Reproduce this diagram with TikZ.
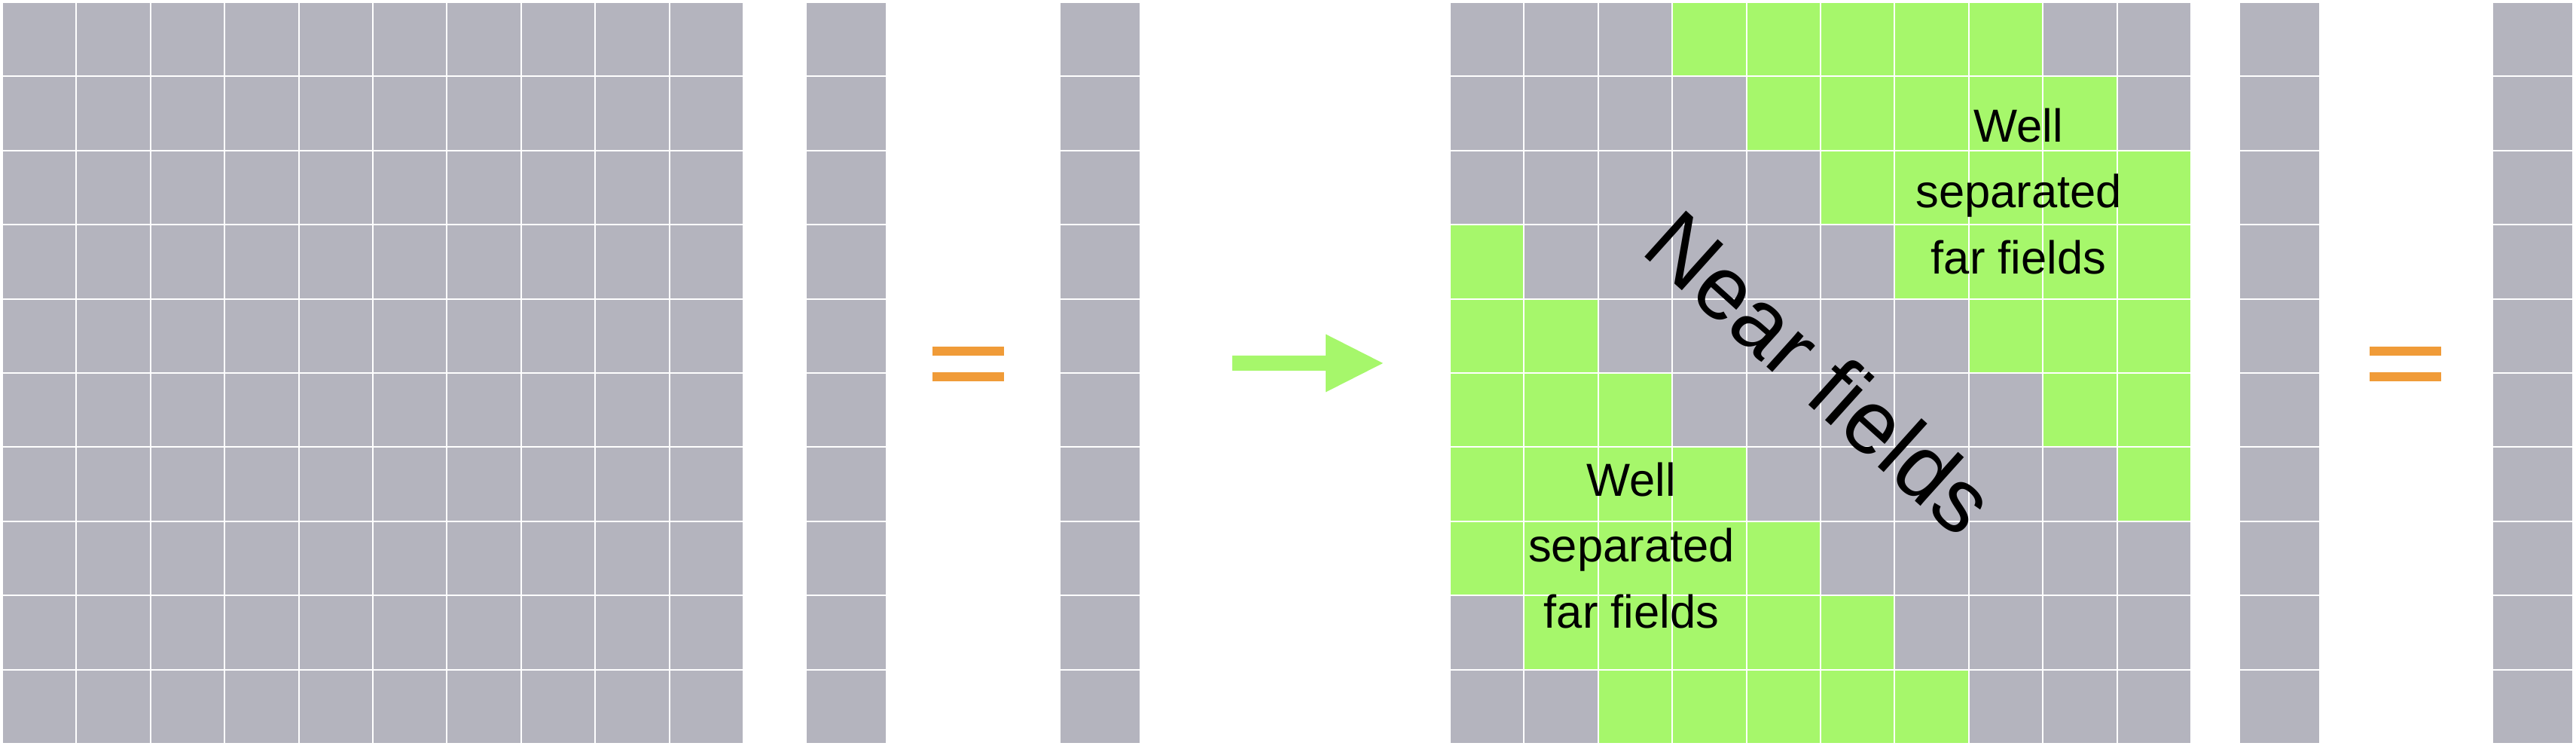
\documentclass[tikz,border=0pt]{standalone}
\usepackage{fontspec}
\setmainfont{Liberation Sans}
\usetikzlibrary{positioning}
\definecolor{cellgray}{RGB}{180,180,190}
\definecolor{fargreen}{RGB}{166,247,107}
\definecolor{eqorange}{RGB}{240,155,56}

\begin{document}
\begin{tikzpicture}[x=1cm,y=1cm,
  cell/.style={fill=cellgray},
  farcell/.style={fill=fargreen},
  eqbar/.style={fill=eqorange},
  farlbl/.style={align=center,inner sep=0pt,font=\fontsize{17.5}{25}\selectfont},
  nearlbl/.style={inner sep=0pt,rotate=-42,font=\fontsize{34}{40}\selectfont}]
  \useasboundingbox (0,0) rectangle (34.2,9.94);

  % dense matrix
  \foreach \r in {0,...,9}
    \foreach \c in {0,...,9}
      \fill[cell] (0.04+0.984*\c,9.90-0.984*\r) rectangle ++(0.964,-0.964);

  % vectors
  \foreach \x in {10.71,14.08,29.74,33.10}
    \foreach \r in {0,...,9}
      \fill[cell] (\x,9.90-0.984*\r) rectangle ++(1.05,-0.964);

  % equal signs
  \foreach \x in {12.375,31.46} {
    \fill[eqbar] (\x,5.22) rectangle ++(0.95,0.12);
    \fill[eqbar] (\x,4.88) rectangle ++(0.95,0.12);
  }

  % arrow
  \fill[fargreen] (16.36,5.02) -- (17.60,5.02) -- (17.60,4.735) -- (18.36,5.12)
    -- (17.60,5.505) -- (17.60,5.22) -- (16.36,5.22) -- cycle;

  % split matrix
  \foreach \r in {0,...,9}
    \foreach \c in {0,...,9} {
      \pgfmathtruncatemacro{\d}{abs(\r-\c)}
      \ifnum\d>2 \ifnum\d<8 \def\kind{farcell}\else\def\kind{cell}\fi
      \else\def\kind{cell}\fi
      \fill[\kind] (19.26+0.984*\c,9.90-0.984*\r) rectangle ++(0.964,-0.964);
    }

  \node[farlbl] (farup) at (26.80,7.40) {Well\\separated\\far fields};
  \node[farlbl] (farlow) at (21.66,2.70) {Well\\separated\\far fields};
  \node[nearlbl] (near) at (24.17,5.00) {Near fields};
\end{tikzpicture}
\end{document}
